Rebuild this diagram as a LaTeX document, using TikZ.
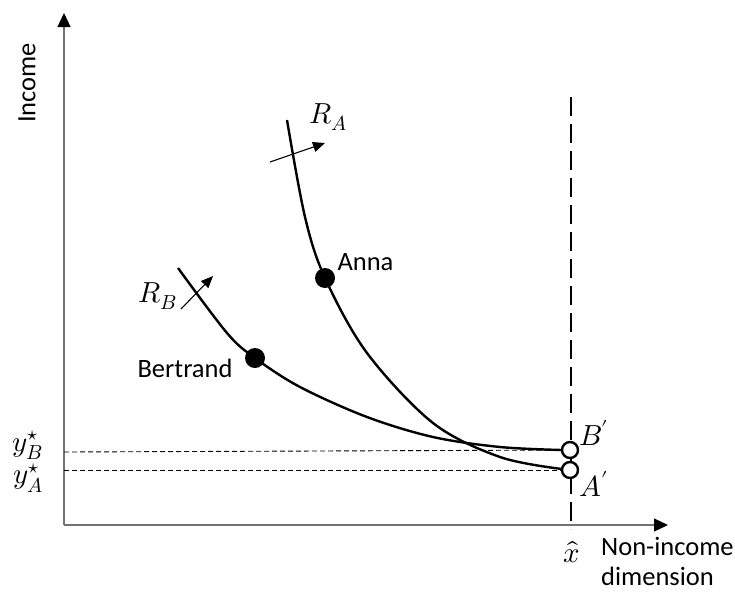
\documentclass[tikz,border=0pt]{standalone}
\usepackage{fontspec}
\usepackage{unicode-math}
\setmainfont{Carlito}
\setmathfont{Latin Modern Math}
\usetikzlibrary{arrows.meta,positioning}
\begin{document}
\begin{tikzpicture}[x=1pt, y=-1pt, every node/.style={font=\fontsize{26.5}{31}\selectfont},
  mlbl/.style={font=\fontsize{29}{34}\selectfont, inner sep=0pt},
  axis/.style={draw=black!55, line width=1.2pt, -{Triangle[length=14pt, width=13pt, color=black]}},
  curve/.style={line width=2.4pt},
  guide/.style={line width=0.9pt, dash pattern=on 5pt off 3pt},
  xline/.style={line width=2.6pt, dash pattern=on 19pt off 8pt},
  dot/.style={circle, fill=black, inner sep=0pt, minimum size=20pt},
  opendot/.style={circle, draw, fill=white, line width=2.4pt, inner sep=0pt, minimum size=16pt},
  pusharr/.style={line width=1.1pt, -{Triangle[length=12pt, width=10pt]}}]
\useasboundingbox (0,0) rectangle (735,592);
% axes
\coordinate (origin) at (64,525);
\coordinate (ytip) at (64,13);
\coordinate (xtip) at (668,525);
\draw[axis] (origin) -- (ytip);
\draw[axis] (origin) -- (xtip);
\node[rotate=90] (ylbl) at (27,83) {Income};
\node[anchor=base west, inner sep=0pt] (xlbl) at (601,555) {Non-income};
\node[anchor=base west, inner sep=0pt] (xlbl2) at (601,585) {dimension};
% x hat line
\coordinate (xtop) at (571,97);
\coordinate (xbot) at (571,529);
\draw[xline] (xtop) -- (xbot);
\node[mlbl] (xhat) at (572,552) {$\hat{x}$};
% curves
\draw[curve] plot[smooth, tension=0.55] coordinates {(287,120) (305,217) (325,278) (367,353) (433,423) (500,457) (562,469)};
\draw[curve] plot[smooth, tension=0.55] coordinates {(178,268) (227,333) (255,358) (300,387) (367,417) (433,437) (500,447) (562,450)};
% end points
\node[opendot] (bprime) at (570,450) {};
\node[opendot] (aprime) at (570,470) {};
\node[mlbl] (bplbl) at (594,433) {$B'$};
\node[mlbl] (aplbl) at (594,484) {$A'$};
\coordinate (yb) at (64,452);
\coordinate (ya) at (64,470);
\draw[guide] (yb) -- (bprime);
\draw[guide] (ya) -- (aprime);
\node[mlbl] (yblbl) at (28,445) {$y_B^{\star}$};
\node[mlbl] (yalbl) at (28,478) {$y_A^{\star}$};
% people
\node[dot] (anna) at (325,278) {};
\node[dot] (bertrand) at (255,358) {};
\node[anchor=west] (annalbl) at (334,262) {Anna};
\node[anchor=east] (bertlbl) at (236,368) {Bertrand};
% shifts
\coordinate (ra0) at (270,162);
\coordinate (ra1) at (325,143);
\coordinate (rb0) at (181,309);
\coordinate (rb1) at (213,276);
\draw[pusharr] (ra0) -- (ra1);
\draw[pusharr] (rb0) -- (rb1);
\node[mlbl] (ralbl) at (328,117) {$R_A$};
\node[mlbl] (rblbl) at (158,296) {$R_B$};
\end{tikzpicture}
\end{document}
